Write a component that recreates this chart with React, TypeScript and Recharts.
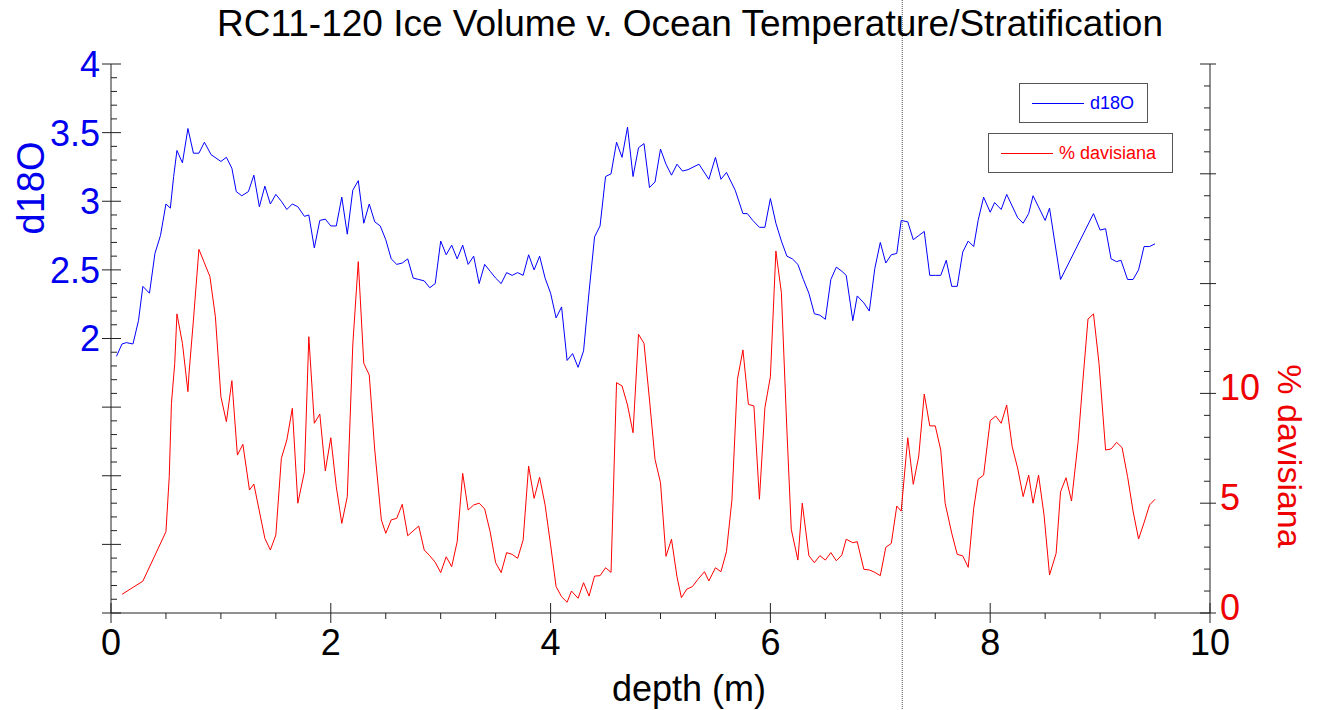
import { Legend, Line, LineChart, ReferenceLine, XAxis, YAxis } from 'recharts';

// core RC11-120, depth in m
const d18oDepth = [
  0.05, 0.1, 0.14, 0.2, 0.25, 0.29, 0.35, 0.4, 0.45, 0.5, 0.54, 0.57, 0.6, 0.65, 0.7, 0.75, 0.8, 0.85, 0.91,
  1.0, 1.05, 1.1, 1.14, 1.19, 1.25, 1.3, 1.35, 1.4, 1.45, 1.5, 1.55, 1.6, 1.65, 1.7, 1.76, 1.8, 1.85, 1.9, 1.95,
  2.0, 2.05, 2.1, 2.15, 2.2, 2.25, 2.3, 2.35, 2.4, 2.45, 2.5, 2.55, 2.6, 2.65, 2.7, 2.75, 2.8, 2.85, 2.9, 2.95,
  3.0, 3.05, 3.1, 3.15, 3.2, 3.25, 3.3, 3.35, 3.4, 3.45, 3.5, 3.55, 3.6, 3.65, 3.7, 3.75, 3.8, 3.85, 3.9, 3.95,
  4.0, 4.05, 4.1, 4.15, 4.2, 4.25, 4.3, 4.35, 4.4, 4.45, 4.5, 4.55, 4.6, 4.65, 4.7, 4.75, 4.8, 4.85, 4.9, 4.95,
  5.0, 5.05, 5.1, 5.15, 5.2, 5.25, 5.35, 5.44, 5.5, 5.55, 5.6, 5.68, 5.75, 5.79, 5.84, 5.9, 5.95,
  6.0, 6.05, 6.1, 6.15, 6.2, 6.25, 6.3, 6.35, 6.4, 6.45, 6.5, 6.55, 6.6, 6.65, 6.69, 6.75, 6.79, 6.85, 6.9, 6.95,
  7.0, 7.05, 7.1, 7.15, 7.19, 7.25, 7.3, 7.35, 7.4, 7.45, 7.5, 7.55, 7.6, 7.65, 7.7, 7.75, 7.8, 7.85, 7.89, 7.94,
  8.0, 8.04, 8.1, 8.15, 8.25, 8.3, 8.35, 8.39, 8.5, 8.54, 8.64, 8.94,
  9.0, 9.05, 9.1, 9.15, 9.19, 9.25, 9.3, 9.35, 9.4, 9.45, 9.5,
];
const d18oValue = [
  1.87, 1.96, 1.97, 1.96, 2.13, 2.38, 2.33, 2.62, 2.75, 2.98, 2.95, 3.18, 3.37, 3.28, 3.53, 3.35, 3.35, 3.43, 3.34,
  3.29, 3.32, 3.24, 3.07, 3.04, 3.07, 3.19, 2.96, 3.11, 2.98, 3.05, 3.0, 2.94, 2.98, 2.96, 2.89, 2.9, 2.66, 2.86, 2.87,
  2.82, 2.82, 3.03, 2.76, 3.08, 3.15, 2.84, 2.98, 2.85, 2.82, 2.72, 2.58, 2.54, 2.55, 2.58, 2.44, 2.43, 2.42, 2.37, 2.4,
  2.71, 2.61, 2.68, 2.58, 2.68, 2.54, 2.6, 2.4, 2.54, 2.49, 2.44, 2.4, 2.48, 2.46, 2.48, 2.46, 2.61, 2.5, 2.6, 2.44,
  2.33, 2.15, 2.23, 1.84, 1.89, 1.79, 1.91, 2.34, 2.74, 2.82, 3.18, 3.2, 3.43, 3.32, 3.54, 3.18, 3.39, 3.42, 3.1, 3.14,
  3.38, 3.27, 3.19, 3.27, 3.22, 3.23, 3.27, 3.16, 3.32, 3.16, 3.21, 3.08, 2.91, 2.91, 2.86, 2.81, 2.81,
  3.02, 2.84, 2.71, 2.6, 2.58, 2.54, 2.43, 2.33, 2.18, 2.17, 2.14, 2.43, 2.52, 2.49, 2.46, 2.13, 2.31, 2.26, 2.2, 2.51,
  2.7, 2.55, 2.61, 2.62, 2.86, 2.85, 2.72, 2.75, 2.78, 2.46, 2.46, 2.46, 2.57, 2.38, 2.38, 2.63, 2.71, 2.67, 2.86, 3.03,
  2.92, 2.99, 2.94, 3.05, 2.88, 2.84, 2.91, 3.04, 2.86, 2.95, 2.43, 2.91,
  2.79, 2.8, 2.58, 2.56, 2.57, 2.43, 2.43, 2.5, 2.67, 2.67, 2.69,
];

const davisianaDepth = [
  0.1, 0.29, 0.5, 0.53, 0.55, 0.58, 0.6, 0.65, 0.7, 0.71, 0.75, 0.8, 0.9, 0.95,
  1.0, 1.05, 1.1, 1.15, 1.2, 1.26, 1.3, 1.4, 1.45, 1.5, 1.55, 1.6, 1.65, 1.7, 1.76, 1.8, 1.85, 1.9, 1.95,
  2.0, 2.05, 2.1, 2.15, 2.2, 2.25, 2.3, 2.35, 2.4, 2.46, 2.5, 2.55, 2.6, 2.65, 2.7, 2.8, 2.85, 2.9, 2.95,
  3.0, 3.05, 3.1, 3.15, 3.2, 3.25, 3.3, 3.35, 3.4, 3.45, 3.5, 3.55, 3.6, 3.65, 3.7, 3.75, 3.8, 3.85, 3.9, 3.95,
  4.0, 4.05, 4.1, 4.15, 4.19, 4.25, 4.3, 4.35, 4.4, 4.45, 4.5, 4.55, 4.6, 4.65, 4.7, 4.75, 4.8, 4.85, 4.9, 4.95,
  5.0, 5.05, 5.1, 5.15, 5.19, 5.24, 5.29, 5.34, 5.4, 5.44, 5.5, 5.55, 5.6, 5.65, 5.7, 5.75, 5.8, 5.85, 5.9, 5.95,
  6.0, 6.05, 6.1, 6.15, 6.19, 6.25, 6.29, 6.35, 6.4, 6.45, 6.5, 6.55, 6.6, 6.65, 6.69, 6.75, 6.79, 6.85, 6.9, 6.95,
  7.0, 7.05, 7.1, 7.15, 7.19, 7.25, 7.3, 7.35, 7.4, 7.45, 7.5, 7.55, 7.59, 7.65, 7.7, 7.75, 7.8, 7.85, 7.89, 7.94,
  8.0, 8.05, 8.1, 8.15, 8.2, 8.25, 8.3, 8.35, 8.39, 8.44, 8.49, 8.54, 8.6, 8.64, 8.69, 8.74, 8.8, 8.84, 8.89, 8.94, 8.99,
  9.05, 9.1, 9.15, 9.2, 9.25, 9.3, 9.35, 9.4, 9.45, 9.5,
];
const davisianaValue = [
  0.85, 1.45, 3.7, 6.21, 9.55, 11.37, 13.62, 12.28, 10.08, 10.92, 13.34, 16.56, 15.32, 13.49,
  9.85, 8.71, 10.58, 7.19, 7.68, 5.6, 5.87, 3.4, 2.87, 3.55, 7.04, 7.88, 9.32, 5.0, 6.43, 12.58, 8.64, 9.06, 6.47,
  7.98, 5.75, 4.08, 5.3, 12.2, 16.0, 11.37, 10.84, 7.42, 4.24, 3.63, 4.24, 4.31, 4.95, 3.52, 3.96, 2.87, 2.61, 2.31,
  1.84, 2.56, 2.11, 3.25, 6.36, 4.69, 4.92, 5.0, 4.74, 3.7, 2.29, 1.84, 2.75, 2.67, 2.49, 3.32, 6.69, 5.22, 6.18, 4.92,
  3.1, 1.2, 0.74, 0.49, 1.0, 0.67, 1.38, 0.77, 1.68, 1.7, 2.06, 1.85, 10.49, 10.34, 9.47, 8.21, 12.69, 12.28, 9.7, 7.0,
  5.93, 2.58, 3.36, 1.65, 0.7, 1.09, 1.2, 1.53, 1.88, 1.46, 2.06, 1.88, 2.79, 5.15, 10.64, 11.98, 9.5, 9.43, 5.18, 9.35,
  10.76, 16.48, 14.59, 8.33, 3.81, 2.41, 5.0, 2.61, 2.29, 2.61, 2.41, 2.75, 2.38, 2.64, 3.36, 3.2, 3.25, 1.99, 1.96, 1.85,
  1.7, 2.99, 3.17, 4.87, 4.64, 7.98, 5.86, 7.15, 9.97, 8.52, 8.52, 7.42, 5.0, 3.63, 2.67, 2.6, 2.08, 4.77, 6.09, 6.28,
  8.76, 8.97, 8.64, 9.47, 7.57, 6.59, 5.3, 6.28, 5.0, 6.28, 4.46, 1.73, 2.72, 5.52, 6.16, 5.1, 7.8, 10.38, 13.39, 13.62, 11.37,
  7.42, 7.47, 7.77, 7.53, 6.21, 4.64, 3.37, 4.11, 4.92, 5.18,
];

const depthTickLabels = [0, 2, 4, 6, 8, 10];
const d18oTickLabels = [2, 2.5, 3, 3.5, 4];
const davisianaTickLabels = [0, 5, 10];
const markerDepth = 7.2;

const d18oData = d18oDepth.map((depth, i) => ({ depth, d18o: d18oValue[i] }));
const davisianaData = davisianaDepth.map((depth, i) => ({ depth, davisiana: davisianaValue[i] }));

const steps = (to: number, step: number) =>
  Array.from({ length: Math.round(to / step) + 1 }, (_, i) => Math.round(i * step * 1000) / 1000);

const depthTicks = steps(10, 0.5);
const d18oTicks = steps(4, 0.1);
const davisianaTicks = steps(25, 1);

const FONT = '"Liberation Sans", Arial, sans-serif';
const BLUE = '#0000ee';
const RED = '#ee0000';
const AXIS = '#222';

const isHalf = (v: number) => Math.abs(v * 2 - Math.round(v * 2)) < 1e-6;

function DepthTick({ x, y, payload }: any) {
  const v = payload.value;
  const major = depthTickLabels.includes(v);
  return (
    <g>
      <line x1={x} x2={x} y1={major ? y - 10 : y} y2={major ? y + 10 : y + 6} stroke={AXIS} />
      {major && (
        <text x={x} y={y + 42} textAnchor="middle" fontSize={36} fontFamily={FONT} fill="#000">
          {v}
        </text>
      )}
    </g>
  );
}

function TopTick({ x, y }: any) {
  return <line x1={x} x2={x} y1={y - 6} y2={y} stroke={AXIS} />;
}

function D18oTick({ x, y, payload }: any) {
  const v = payload.value;
  const major = isHalf(v);
  return (
    <g>
      <line x1={major ? x - 9 : x} x2={major ? x + 10 : x + 6} y1={y} y2={y} stroke={AXIS} />
      {d18oTickLabels.includes(v) && (
        <text x={x - 11} y={y} dy="0.36em" textAnchor="end" fontSize={36} fontFamily={FONT} fill={BLUE}>
          {v}
        </text>
      )}
    </g>
  );
}

function DavisianaTick({ x, y, payload }: any) {
  const v = payload.value;
  const major = v % 5 === 0;
  return (
    <g>
      <line x1={major ? x - 10 : x - 6} x2={major ? x + 6 : x} y1={y} y2={y} stroke={AXIS} />
      {davisianaTickLabels.includes(v) && (
        <text x={x + 10} y={y - 6} dy="0.36em" textAnchor="start" fontSize={36} fontFamily={FONT} fill={RED}>
          {v}
        </text>
      )}
    </g>
  );
}

// legend boxes sit top right, one box per series
const legendBoxes: Record<string, { left: number; top: number; width: number }> = {
  d18O: { left: 1019, top: 83, width: 129 },
  '% davisiana': { left: 988, top: 133, width: 185 },
};

function LegendContent({ payload }: any) {
  return (
    <div>
      {(payload || []).map((entry: any) => {
        const box = legendBoxes[entry.value] || legendBoxes.d18O;
        return (
          <div
            key={entry.value}
            style={{
              position: 'absolute',
              left: box.left,
              top: box.top,
              width: box.width,
              height: 40,
              boxSizing: 'border-box',
              border: '1.5px solid #555',
              background: '#fff',
              display: 'flex',
              alignItems: 'center',
              paddingLeft: 12,
              fontFamily: FONT,
              fontSize: 18,
              color: entry.color,
              whiteSpace: 'nowrap',
            }}
          >
            <span
              style={{
                display: 'inline-block',
                flex: '0 0 52px',
                width: 52,
                height: 0,
                borderTop: `1px solid ${entry.color}`,
                marginRight: 6,
              }}
            />
            <span>{entry.value}</span>
          </div>
        );
      })}
    </div>
  );
}

export default function App() {
  return (
    <div style={{ position: 'absolute', left: 0, top: 0, width: 1317, height: 710, background: '#fff', fontFamily: FONT }}>
      <LineChart width={1317} height={710} margin={{ top: 64, right: 0, bottom: 0, left: 0 }}>
        <XAxis
          xAxisId={0}
          dataKey="depth"
          type="number"
          domain={[0, 10]}
          ticks={depthTicks}
          interval={0}
          height={97}
          tickSize={0}
          tickMargin={0}
          tickLine={false}
          axisLine={{ stroke: AXIS }}
          tick={<DepthTick />}
          label={() => (
            <g>
              <text x={690} y={36} textAnchor="middle" fontSize={37} fontFamily={FONT} fill="#000">
                RC11-120 Ice Volume v. Ocean Temperature/Stratification
              </text>
              <text x={689} y={701} textAnchor="middle" fontSize={36} fontFamily={FONT} fill="#000">
                depth (m)
              </text>
            </g>
          )}
        />
        <XAxis
          xAxisId="top"
          orientation="top"
          dataKey="depth"
          type="number"
          domain={[0, 10]}
          ticks={depthTicks}
          interval={0}
          height={0}
          tickSize={0}
          tickMargin={0}
          tickLine={false}
          axisLine={{ stroke: AXIS }}
          tick={<TopTick />}
        />
        <YAxis
          yAxisId="left"
          type="number"
          domain={[0, 4]}
          ticks={d18oTicks}
          interval={0}
          width={111}
          tickSize={0}
          tickMargin={0}
          tickLine={false}
          axisLine={{ stroke: AXIS }}
          tick={<D18oTick />}
          label={() => (
            <text
              x={30}
              y={188}
              dy="0.36em"
              transform="rotate(-90 30 188)"
              textAnchor="middle"
              fontSize={38}
              fontFamily={FONT}
              fill={BLUE}
            >
              d18O
            </text>
          )}
        />
        <YAxis
          yAxisId="right"
          orientation="right"
          type="number"
          domain={[0, 25]}
          ticks={davisianaTicks}
          interval={0}
          width={107}
          tickSize={0}
          tickMargin={0}
          tickLine={false}
          axisLine={{ stroke: AXIS }}
          tick={<DavisianaTick />}
          label={() => (
            <text
              x={1290}
              y={456}
              dy="0.36em"
              transform="rotate(90 1290 456)"
              textAnchor="middle"
              fontSize={34}
              fontFamily={FONT}
              fill={RED}
            >
              % davisiana
            </text>
          )}
        />
        <ReferenceLine
          x={markerDepth}
          yAxisId="left"
          shape={(p: any) => (
            <line x1={p.x1} x2={p.x2} y1={0} y2={710} stroke="#555" strokeDasharray="1 1" />
          )}
        />
        <Line
          data={d18oData}
          yAxisId="left"
          dataKey="d18o"
          name="d18O"
          stroke="#0000ff"
          strokeWidth={1}
          dot={false}
          activeDot={false}
          isAnimationActive={false}
        />
        <Line
          data={davisianaData}
          yAxisId="right"
          dataKey="davisiana"
          name="% davisiana"
          stroke="#ff0000"
          strokeWidth={1}
          dot={false}
          activeDot={false}
          isAnimationActive={false}
        />
        <Legend
          layout="horizontal"
          verticalAlign="middle"
          align="center"
          wrapperStyle={{ left: 0, top: 0, width: 1317, height: 0 }}
          content={<LegendContent />}
        />
      </LineChart>
    </div>
  );
}
